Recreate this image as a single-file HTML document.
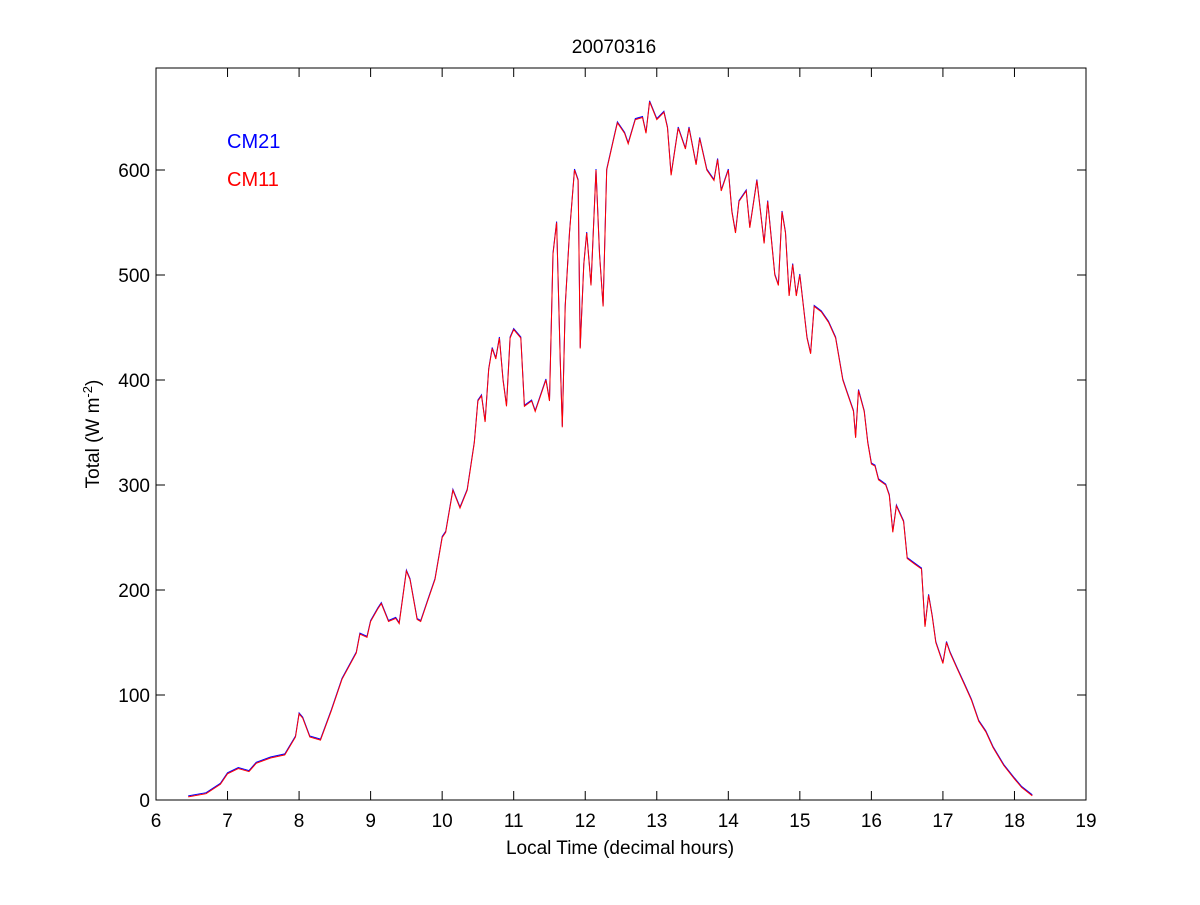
<!DOCTYPE html>
<html><head><meta charset="utf-8"><style>
body{margin:0;background:#fff;}
svg text{font-family:"Liberation Sans",Arial,sans-serif;font-size:19px;fill:#000;}
</style></head><body>
<svg id="s" width="1200" height="900" xmlns="http://www.w3.org/2000/svg">
<rect x="0" y="0" width="1200" height="900" fill="#fff"/>
<rect x="156" y="68" width="930" height="732" fill="#fff" stroke="#000" stroke-width="1"/>
<g id="ticks" stroke="#000" stroke-width="1"></g>
<g id="labels"></g>
<polyline id="blue" fill="none" stroke="#0000ff" stroke-width="1"/>
<polyline id="red" fill="none" stroke="#ff0000" stroke-width="1"/>
<text x="614" y="53" text-anchor="middle">20070316</text>
<text x="620" y="854" text-anchor="middle">Local Time (decimal hours)</text>
<text transform="translate(99,434) rotate(-90)" text-anchor="middle">Total (W m<tspan dy="-7" font-size="13">-2</tspan><tspan dy="7">)</tspan></text>
<text x="227" y="148" style="fill:#0000ff;font-size:20px">CM21</text>
<text x="227" y="186" style="fill:#ff0000;font-size:20px">CM11</text>
</svg>
<script>
var X=function(h){return 156+(h-6)*930/13;},Y=function(v){return 800-v*1.05;};
var t=document.getElementById('ticks'),l=document.getElementById('labels'),html='',lh='';
for(var h=6;h<=19;h++){var x=X(h);html+='<line x1="'+x+'" y1="800" x2="'+x+'" y2="791"/><line x1="'+x+'" y1="68" x2="'+x+'" y2="77"/>';lh+='<text x="'+x+'" y="827" text-anchor="middle">'+h+'</text>';}
for(var v=0;v<=600;v+=100){var y=Y(v);html+='<line x1="156" y1="'+y+'" x2="165" y2="'+y+'"/><line x1="1086" y1="'+y+'" x2="1077" y2="'+y+'"/>';lh+='<text x="150" y="'+(y+7)+'" text-anchor="end">'+v+'</text>';}
t.innerHTML=html;l.innerHTML=lh;
var d=[6.45,3,6.7,6,6.9,15,7.0,25,7.15,30,7.3,27,7.4,35,7.6,40,7.8,43,7.95,60,8.0,82,8.05,78,8.15,60,8.3,57,8.45,85,8.6,115,8.8,140,8.85,158,8.95,155,9.0,170,9.1,182,9.15,187,9.25,170,9.35,173,9.4,168,9.5,218,9.55,210,9.65,172,9.7,170,9.8,190,9.9,210,10.0,250,10.05,255,10.15,295,10.25,278,10.35,295,10.45,340,10.5,380,10.55,385,10.6,360,10.65,410,10.7,430,10.75,420,10.8,440,10.85,400,10.9,375,10.95,440,11.0,448,11.1,440,11.15,375,11.25,380,11.3,370,11.45,400,11.5,380,11.55,520,11.6,550,11.65,420,11.68,355,11.72,470,11.78,540,11.85,600,11.9,590,11.93,430,11.98,510,12.02,540,12.08,490,12.15,600,12.2,520,12.25,470,12.3,600,12.4,630,12.45,645,12.55,635,12.6,625,12.7,648,12.8,650,12.85,635,12.9,665,13.0,648,13.1,655,13.15,640,13.2,595,13.3,640,13.4,620,13.45,640,13.55,605,13.6,630,13.7,600,13.8,590,13.85,610,13.9,580,14.0,600,14.05,560,14.1,540,14.15,570,14.25,580,14.3,545,14.4,590,14.45,560,14.5,530,14.55,570,14.65,500,14.7,490,14.75,560,14.8,540,14.85,480,14.9,510,14.95,480,15.0,500,15.1,440,15.15,425,15.2,470,15.3,465,15.4,455,15.5,440,15.6,400,15.65,390,15.75,370,15.78,345,15.82,390,15.9,370,15.95,340,16.0,320,16.05,318,16.1,305,16.2,300,16.25,290,16.3,255,16.35,280,16.45,265,16.5,230,16.6,225,16.7,220,16.75,165,16.8,195,16.85,175,16.9,150,17.0,130,17.05,150,17.1,140,17.2,125,17.3,110,17.4,95,17.5,75,17.6,65,17.7,50,17.85,33,18.0,20,18.1,12,18.25,4];
var p='',pb='';for(var i=0;i<d.length;i+=2){p+=X(d[i]).toFixed(1)+','+Y(d[i+1]).toFixed(1)+' ';pb+=X(d[i]).toFixed(1)+','+(Y(d[i+1])-1).toFixed(1)+' ';}
document.getElementById('red').setAttribute('points',p);document.getElementById('blue').setAttribute('points',pb);
</script>
</body></html>
